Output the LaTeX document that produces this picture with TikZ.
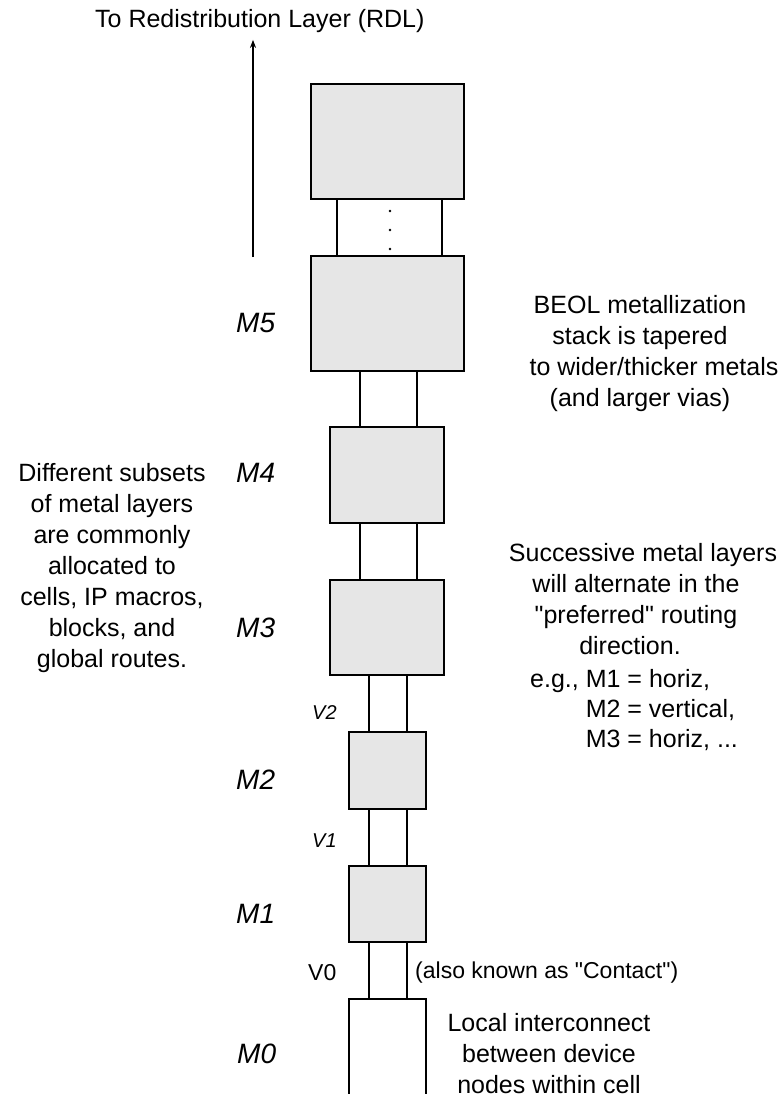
\documentclass[tikz,border=0pt]{standalone}
\usepackage{fontspec}
\setmainfont{Liberation Sans}
% same face without TeX ligature mapping, for straight quote marks
\newfontfamily\rawsans{Liberation Sans}
\usetikzlibrary{arrows.meta}
\definecolor{metalfill}{RGB}{230,230,230}
\newcommand{\dq}{{\rawsans"}}
\begin{document}
\begin{tikzpicture}[x=1pt,y=-1pt,
  metal/.style={draw, line width=1.8pt, fill=metalfill, inner sep=0pt, outer sep=0pt},
  bare/.style={metal, fill=white},
  via/.style={draw, line width=1.8pt, fill=white},
  txt/.style={font=\fontsize{25}{31}\selectfont, inner sep=0pt},
  layer/.style={font=\fontsize{28}{32}\selectfont\itshape, inner sep=0pt, anchor=base west},
  vialabel/.style={font=\fontsize{20}{24}\selectfont\itshape, inner sep=0pt, anchor=base west},
  rdlarrow/.style={line width=1.8pt, -{Stealth[length=8pt,width=6pt]}}]
\useasboundingbox (0,0) rectangle (782,1094);
\clip (0,0) rectangle (782,1094);

% metal layers of the stack
\node[metal, minimum width=153pt, minimum height=115pt] (top) at (387.5,141.5) {};
\node[metal, minimum width=153pt, minimum height=115pt] (m5) at (387.5,313.5) {};
\node[metal, minimum width=114pt, minimum height=96pt]  (m4) at (387,475) {};
\node[metal, minimum width=114pt, minimum height=95pt]  (m3) at (387,627.5) {};
\node[metal, minimum width=77pt,  minimum height=77pt]  (m2) at (387.5,770.5) {};
\node[metal, minimum width=77pt,  minimum height=76pt]  (m1) at (387.5,904) {};
\node[bare,  minimum width=77pt,  minimum height=121pt] (m0) at (387.5,1059.5) {};

% vias between adjacent layers
\draw[via] ([xshift=-50.5pt]top.south) rectangle ([xshift=54.5pt]m5.north);
\draw[via] ([xshift=-27.5pt]m5.south) rectangle ([xshift=30pt]m4.north);
\draw[via] ([xshift=-27pt]m4.south) rectangle ([xshift=30pt]m3.north);
\draw[via] ([xshift=-18pt]m3.south) rectangle ([xshift=19.5pt]m2.north);
\draw[via] ([xshift=-18.5pt]m2.south) rectangle ([xshift=19.5pt]m1.north);
\draw[via] ([xshift=-18.5pt]m1.south) rectangle ([xshift=19.5pt]m0.north);

% ellipsis for the intermediate layers
\foreach \yy in {211,230,249} \fill (390,\yy) circle (1.3pt);

% route up to the RDL
\node[txt, anchor=base west] (rdl) at (95,28) {To Redistribution Layer (RDL)};
\coordinate (rdlbase) at (253,257);
\draw[rdlarrow, shorten >=6.5pt] (rdlbase) -- (rdlbase |- rdl.south);

% layer names
\node[layer] (lm5) at (236,332) {M5};
\node[layer] (lm4) at (236,482) {M4};
\node[layer] (lm3) at (236,637) {M3};
\node[layer] (lm2) at (236,789) {M2};
\node[layer] (lm1) at (236,923) {M1};
\node[layer] (lm0) at (237,1063) {M0};
\node[vialabel] (lv2) at (312,719) {V2};
\node[vialabel] (lv1) at (312,847) {V1};
\node[font=\fontsize{23}{27}\selectfont, inner sep=0pt, anchor=base west] (lv0) at (308,980) {V0};

% notes (base anchor sits on the last line)
\node[txt, align=center, anchor=base] (subsets) at (112,667)
  {Different subsets\\of metal layers\\are commonly\\allocated to\\cells, IP macros,\\blocks, and\\global routes.};
\node[txt, align=center, anchor=base] (beol) at (640,406)
  {BEOL metallization\\stack is tapered\\\hspace*{28pt}to wider/thicker metals\\(and larger vias)};
\node[txt, align=center, anchor=base] (alt) at (636,654)
  {\hspace*{14pt}Successive metal layers\\will alternate in the\\\dq preferred\dq{} routing\\direction.\hspace*{12pt}};
\node[txt, align=left, anchor=base west, font=\fontsize{25}{30}\selectfont] (eg) at (530,747)
  {e.g., M1 = horiz,\\\phantom{e.g., }M2 = vertical,\\\phantom{e.g., }M3 = horiz, ...};
\node[font=\fontsize{23}{27}\selectfont, inner sep=0pt, anchor=base west] (contact) at (415,978)
  {(also known as \dq Contact\dq)};
\node[txt, align=center, anchor=base] (local) at (549,1093)
  {Local interconnect\\between device\\nodes within cell};
\end{tikzpicture}
\end{document}
